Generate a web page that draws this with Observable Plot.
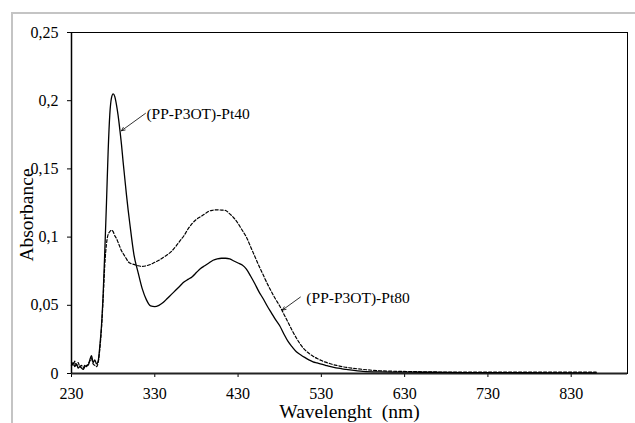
<!DOCTYPE html>
<html><head><meta charset="utf-8">
<script src="https://cdn.jsdelivr.net/npm/d3@7"></script>
<script src="https://cdn.jsdelivr.net/npm/@observablehq/plot@0.6"></script>
<style>
body{margin:0;background:#fff;}
#wrap{position:relative;width:635px;height:423px;overflow:hidden;}
#border{position:absolute;left:11px;top:12px;width:650px;height:440px;border:2px solid #c4c4c4;box-sizing:border-box;}
#chart{position:absolute;left:0;top:0;}
</style></head><body>
<div id="wrap"><div id="border"></div><div id="chart"></div></div>
<script>
const wavelength = [230,232,234,236,238,240,242,244,246,248,250,252,254,256,258,260,262,264,266,268,270,272,274,276,278,280,282,284,286,288,290,292,294,296,298,300,
  305,310,315,320,325,330,335,340,345,350,355,360,365,370,375,380,385,390,395,400,405,410,415,420,425,430,435,440,445,450,455,460,465,470,475,480,485,490,495,500,505,510,515,520,525,530,535,540,545,550,555,560,
  580,600,650,700,750,800,860];
const pt40 = [0.006,0.008,0.005,0.007,0.004,0.005,0.004,0.003,0.005,0.006,0.006,0.010,0.013,0.008,0.010,0.007,0.009,
  0.020,0.035,0.058,0.090,0.125,0.163,0.190,0.202,0.205,0.203,0.197,0.189,0.179,0.168,0.155,0.143,0.131,0.120,0.110,
  0.087,0.074,0.062,0.054,0.0495,0.049,0.050,0.052,0.055,0.058,0.061,0.064,0.067,0.069,0.071,0.074,0.077,0.079,0.081,0.083,
  0.084,0.0845,0.0845,0.084,0.0825,0.081,0.0795,0.0765,0.0715,0.066,0.060,0.055,0.0495,0.0445,0.0395,0.035,0.029,0.0235,0.0195,0.016,
  0.0138,0.0118,0.0100,0.0086,0.0077,0.0068,0.006,0.0052,0.0045,0.0039,0.0034,0.003,
  0.0016,0.0012,0.0009,0.0007,0.0006,0.0005,0.0005];
const pt80 = [0.008,0.006,0.009,0.006,0.008,0.005,0.006,0.004,0.006,0.005,0.007,0.009,0.011,0.007,0.006,0.005,0.008,
  0.018,0.033,0.055,0.080,0.095,0.102,0.104,0.105,0.104,0.101,0.099,0.096,0.093,0.090,0.088,0.086,0.084,0.082,0.081,
  0.080,0.079,0.0785,0.079,0.080,0.0815,0.083,0.085,0.087,0.0895,0.093,0.097,0.101,0.106,0.110,0.113,0.115,0.117,0.119,0.1197,
  0.120,0.1198,0.1195,0.117,0.114,0.110,0.105,0.100,0.093,0.086,0.079,0.0725,0.066,0.060,0.0545,0.0495,0.0435,0.0375,0.0315,0.026,
  0.0213,0.0175,0.0148,0.0127,0.011,0.0095,0.0083,0.0073,0.0064,0.0057,0.005,0.0045,
  0.003,0.002,0.0013,0.001,0.001,0.001,0.001];
const xTicks = [230,330,430,530,630,730,830];
const yTicks = [0,0.05,0.1,0.15,0.2,0.25];
const seriesLabels = ["(PP-P3OT)-Pt40","(PP-P3OT)-Pt80"];
const labelAt = [{x:320,y:0.19},{x:512,y:0.0553}];
const arrowFrom = [{x:318.8,y:0.1907},{x:504.8,y:0.056}];
const arrowTo = [{x:290,y:0.178},{x:483.2,y:0.0465}];
const xTitle = "Wavelenght \u00a0(nm)";
const yTitle = "Absorbance";

const d40 = wavelength.map((w,i)=>({w, a:pt40[i]}));
const d80 = wavelength.map((w,i)=>({w, a:pt80[i]}));
const labels = seriesLabels.map((t,i)=>({t, x:labelAt[i].x, y:labelAt[i].y}));
const arrows = arrowFrom.map((f,i)=>({x1:f.x,y1:f.y,x2:arrowTo[i].x,y2:arrowTo[i].y}));
const fmtY = d => String(d).replace(".", ",");
const font = "'Liberation Serif','Times New Roman',serif";

const chart = Plot.plot({
  width:635, height:423,
  marginLeft:71, marginTop:32, marginRight:8, marginBottom:50,
  style:{fontFamily:font, fontSize:"16px", background:"transparent", color:"#000"},
  x:{domain:[230,897.6]},
  y:{domain:[0,0.25]},
  marks:[
    Plot.frame({stroke:"#000", strokeWidth:1}),
    Plot.axisX({ticks:xTicks, tickSize:4, tickPadding:10, label:null, tickFormat:d=>String(d), fontSize:16}),
    Plot.axisY({ticks:yTicks, tickSize:4, tickPadding:9, label:null, tickFormat:fmtY, fontSize:16}),
    Plot.ruleY([0], {stroke:"#222", strokeWidth:2}),
    Plot.ruleX([230], {stroke:"#000", strokeWidth:1.5}),
    Plot.line(d40, {x:"w", y:"a", stroke:"#000", strokeWidth:1.3, curve:"monotone-x"}),
    Plot.line(d80, {x:"w", y:"a", stroke:"#000", strokeWidth:1.2, strokeDasharray:"3,2", curve:"monotone-x"}),
    Plot.arrow(arrows, {x1:"x1", y1:"y1", x2:"x2", y2:"y2", stroke:"#000", strokeWidth:0.8, headLength:7, headAngle:50}),
    Plot.text(labels, {x:"x", y:"y", text:"t", textAnchor:"start", fontSize:15.5, fill:"#000"}),
    Plot.text([yTitle], {text:d=>d, frameAnchor:"left", textAnchor:"middle", lineAnchor:"middle", dx:-45, dy:12, rotate:-90, fontSize:19.5, fill:"#000"}),
    Plot.text([xTitle], {text:d=>d, frameAnchor:"bottom", textAnchor:"middle", lineAnchor:"middle", dy:38, fontSize:19.5, fill:"#000"})
  ]
});
document.getElementById("chart").appendChild(chart);
</script>
</body></html>
